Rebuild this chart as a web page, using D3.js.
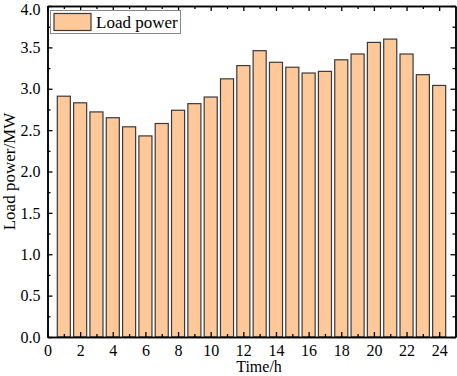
<!DOCTYPE html>
<html>
<head>
<meta charset="utf-8">
<script src="https://cdn.jsdelivr.net/npm/d3@7"></script>
<style>
  body { margin: 0; background: #fff; }
  svg { display: block; font-family: "Liberation Serif", "Times New Roman", serif; }
</style>
</head>
<body>
<div id="chart"></div>
<script>
// hours and load (MW)
const hours = d3.range(1, 25);
const loadPower = [2.91, 2.83, 2.72, 2.65, 2.54, 2.43, 2.58, 2.74, 2.82, 2.90, 3.12, 3.28,
                   3.46, 3.32, 3.26, 3.19, 3.21, 3.35, 3.42, 3.56, 3.60, 3.42, 3.17, 3.04];
const xTicks = [0, 2, 4, 6, 8, 10, 12, 14, 16, 18, 20, 22, 24];
const yTicks = [0, 0.5, 1, 1.5, 2, 2.5, 3, 3.5, 4];

const width = 457, height = 376;
const margin = {left: 47.5, right: 1.5, top: 6, bottom: 39};

const svg = d3.select("#chart").append("svg")
  .attr("width", width)
  .attr("height", height);

const x = d3.scaleLinear().domain([0, 25]).range([margin.left, width - margin.right]);
const y = d3.scaleLinear().domain([0, 4]).range([height - margin.bottom, margin.top]);

// bars
const bw = (x(0.8) - x(0));
svg.append("g").selectAll("rect")
  .data(hours)
  .enter()
  .append("rect")
  .attr("x", d => x(d) - bw / 2)
  .attr("y", (d, i) => y(loadPower[i]))
  .attr("width", bw)
  .attr("height", (d, i) => y(0) - y(loadPower[i]))
  .attr("fill", "#FFC899")
  .attr("stroke", "#3a3a3a")
  .attr("stroke-width", 1.2);

// axes - ticks point inward
const minorX = d3.range(1, 25, 2);
const minorY = d3.range(0.25, 4, 0.5);

svg.append("g").attr("transform", `translate(0,${y(0)})`)
  .call(d3.axisBottom(x).tickValues(xTicks).tickSizeInner(-5).tickSizeOuter(0).tickPadding(8).tickFormat(d3.format("d")));
svg.append("g").attr("transform", `translate(0,${y(0)})`)
  .call(d3.axisBottom(x).tickValues(minorX).tickSizeInner(-3).tickSizeOuter(0).tickFormat(""));

svg.append("g").attr("transform", `translate(0,${y(4)})`)
  .call(d3.axisTop(x).tickValues(xTicks).tickSizeInner(-5).tickSizeOuter(0).tickFormat(""));
svg.append("g").attr("transform", `translate(0,${y(4)})`)
  .call(d3.axisTop(x).tickValues(minorX).tickSizeInner(-3).tickSizeOuter(0).tickFormat(""));

const yAxis = svg.append("g").attr("transform", `translate(${x(0)},0)`)
  .call(d3.axisLeft(y).tickValues(yTicks).tickSizeInner(-5).tickSizeOuter(0).tickPadding(7).tickFormat(d3.format(".1f")));
svg.append("g").attr("transform", `translate(${x(0)},0)`)
  .call(d3.axisLeft(y).tickValues(minorY).tickSizeInner(-3).tickSizeOuter(0).tickFormat(""));

// top label sits on the window edge, nudge it in a bit
yAxis.selectAll(".tick text").filter(d => d === 4).attr("dy", "0.5em");

svg.append("g").attr("transform", `translate(${x(25)},0)`)
  .call(d3.axisRight(y).tickValues(yTicks).tickSizeInner(-5).tickSizeOuter(0).tickFormat(""));
svg.append("g").attr("transform", `translate(${x(25)},0)`)
  .call(d3.axisRight(y).tickValues(minorY).tickSizeInner(-3).tickSizeOuter(0).tickFormat(""));

svg.selectAll(".domain").attr("stroke", "#000").attr("stroke-width", 1.5);
svg.selectAll(".tick line").attr("stroke", "#000").attr("stroke-width", 1.3);
svg.selectAll(".tick text")
  .attr("font-family", "Liberation Serif, Times New Roman, serif")
  .attr("font-size", 16)
  .attr("fill", "#000");

// axis titles
svg.append("text")
  .attr("x", 259)
  .attr("y", 372)
  .attr("text-anchor", "middle")
  .attr("font-size", 16)
  .text("Time/h");

svg.append("text")
  .attr("transform", `translate(15,${(y(0) + y(4)) / 2}) rotate(-90)`)
  .attr("text-anchor", "middle")
  .attr("font-size", 17)
  .text("Load power/MW");

// legend
const legend = svg.append("g");
legend.append("rect")
  .attr("x", 50.5).attr("y", 10.5).attr("width", 130).attr("height", 23)
  .attr("fill", "#fff").attr("stroke", "#888").attr("stroke-width", 1);
legend.append("rect")
  .attr("x", 54).attr("y", 13.5).attr("width", 37).attr("height", 17)
  .attr("fill", "#FFC899").attr("stroke", "#3a3a3a").attr("stroke-width", 1.2);
legend.append("text")
  .attr("x", 96).attr("y", 28)
  .attr("font-size", 17)
  .text("Load power");
</script>
</body>
</html>
